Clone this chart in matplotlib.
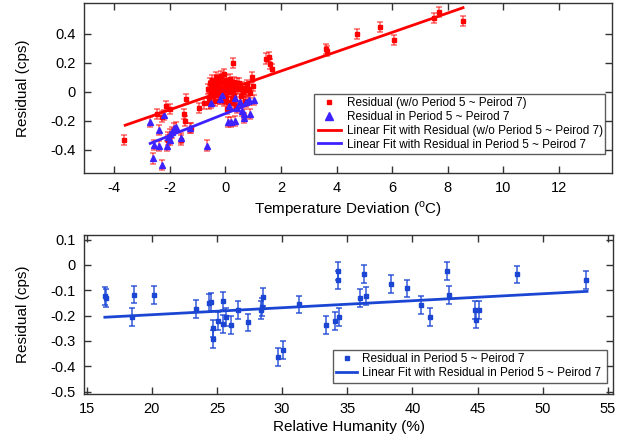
import matplotlib.pyplot as plt
import numpy as np

plt.rcParams['font.family'] = ['Liberation Sans', 'DejaVu Sans']
plt.rcParams['mathtext.fontset'] = 'custom'
plt.rcParams['mathtext.rm'] = 'Liberation Sans'

# ---------------- top panel data (temperature) ----------------
temp_red_x = [-3.63, -2.44, -2.28, -2.14, -1.99, -2.05, -1.59, -1.49, -1.45, -1.41,
              -1.24, -0.93, -0.75, 0.29, 0.97, 1.00, 0.74, 1.48, 1.57, 1.62, 1.67,
              3.62, 3.65, 4.75, 5.57, 6.05, 7.51, 7.68, 8.54,
              -0.62, -0.58, -0.55, -0.52, -0.50, -0.47, -0.45, -0.42, -0.40, -0.38,
              -0.35, -0.33, -0.30, -0.28, -0.25, -0.22, -0.20, -0.18, -0.15, -0.12,
              -0.10, -0.08, -0.05, -0.02, 0.00, 0.03, 0.05, 0.08, 0.10, 0.12,
              0.15, 0.18, 0.20, 0.23, 0.25, 0.28, 0.30, 0.33, 0.36, 0.40,
              0.45, 0.50, 0.55, 0.60, 0.65, 0.70, 0.78, 0.85, 0.90,
              -0.60, -0.44, -0.30, -0.16, 0.02, 0.14, 0.26, 0.42, -0.05, 0.08]
temp_red_y = [-0.33, -0.15, -0.17, -0.10, -0.12, -0.33, -0.33, -0.15, -0.20, -0.05,
              -0.25, -0.11, -0.08, 0.20, 0.10, 0.04, 0.01, 0.23, 0.24, 0.19, 0.16,
              0.295, 0.284, 0.40, 0.45, 0.356, 0.51, 0.55, 0.49,
              0.02, -0.04, 0.06, -0.01, 0.04, 0.08, -0.03, 0.01, 0.05, -0.06,
              0.03, 0.10, -0.02, 0.06, 0.00, 0.04, 0.09, -0.05, 0.02, 0.07,
              -0.01, 0.03, 0.12, 0.05, -0.03, 0.08, 0.01, 0.04, -0.07, 0.06,
              0.00, 0.09, 0.03, -0.04, 0.05, 0.01, 0.07, -0.02, 0.04, -0.10,
              0.02, 0.06, -0.03, 0.03, 0.00, -0.06, 0.05, 0.02, -0.01,
              -0.08, 0.00, 0.08, 0.11, -0.05, 0.02, -0.08, 0.06, -0.06, -0.12]
temp_blue_x = [-2.72, -2.59, -2.55, -2.38, -2.37, -2.27, -2.19, -2.08, -2.05, -2.00,
               -1.98, -1.92, -1.85, -1.77, -1.60, -1.27, -0.64, -0.52, -0.18, -0.13,
               0.14, 0.11, 0.21, 0.35, 0.36, 0.43, 0.54, 0.59, 0.69, 0.76, 0.87,
               0.90, 1.02, 0.69]
temp_blue_y = [-0.205, -0.459, -0.364, -0.376, -0.265, -0.505, -0.161, -0.373, -0.31, -0.33,
               -0.29, -0.28, -0.25, -0.24, -0.316, -0.249, -0.37, -0.074, -0.05, -0.023,
               -0.099, -0.21, -0.21, -0.20, -0.041, -0.11, -0.07, -0.13, -0.15, -0.07, -0.058,
               -0.15, -0.058, -0.18]
temp_err = 0.035

# linear fits (slope, intercept, x-range)
fit_red = (0.0667, 0.010, -3.6, 8.55)
fit_blue = (0.076, -0.150, -2.7, 1.05)

# ---------------- bottom panel data (humidity) ----------------
hum_x = [16.42, 16.52, 18.47, 18.65, 20.16, 23.37, 24.39, 24.57, 24.70, 24.70,
         25.09, 25.46, 25.46, 25.71, 26.05, 26.58, 27.35, 28.40, 28.45, 28.50,
         29.65, 30.08, 31.33, 33.37, 34.08, 34.26, 34.26, 34.40, 35.99, 36.27,
         36.42, 38.39, 39.56, 40.66, 41.37, 42.65, 42.80, 44.79, 44.90, 45.08,
         48.03, 53.36]
hum_y = [-0.124, -0.130, -0.205, -0.117, -0.119, -0.173, -0.151, -0.147, -0.251, -0.292,
         -0.221, -0.143, -0.232, -0.205, -0.236, -0.177, -0.227, -0.179, -0.166, -0.127,
         -0.363, -0.335, -0.156, -0.236, -0.222, -0.025, -0.059, -0.205, -0.132, -0.035,
         -0.124, -0.077, -0.093, -0.158, -0.207, -0.025, -0.120, -0.177, -0.216, -0.177,
         -0.038, -0.059]
hum_err = 0.035
fit_hum = (0.00276, -0.252, 16.4, 53.4)

red = '#ff0000'
blue_top = '#3d22ff'
blue_bot = '#1b46d4'
frame = '#333333'

fig = plt.figure(figsize=(6.34, 4.45), dpi=100)
ax1 = fig.add_axes([0.1325, 0.611, 0.8325, 0.382])
ax2 = fig.add_axes([0.1325, 0.115, 0.8345, 0.357])

# ---- top ----
ax1.errorbar(temp_red_x, temp_red_y, yerr=temp_err, fmt='none', ecolor=red,
             alpha=0.55, elinewidth=1.2, capsize=2, capthick=1.2)
ax1.errorbar(temp_blue_x, temp_blue_y, yerr=temp_err, fmt='none', ecolor=red,
             alpha=0.55, elinewidth=1.2, capsize=2, capthick=1.2)
ax1.plot(temp_red_x, temp_red_y, 's', color=red, markersize=2.3, linestyle='none',
         label='Residual (w/o Period 5 ~ Peirod 7)')
ax1.plot(temp_blue_x, temp_blue_y, '^', color=blue_top, markersize=4.8, linestyle='none',
         label='Residual in Period 5 ~ Peirod 7')
xr = np.array(fit_red[2:])
ax1.plot(xr, fit_red[0] * xr + fit_red[1], '-', color=red, linewidth=2,
         label='Linear Fit with Residual (w/o Period 5 ~ Peirod 7)')
xb = np.array(fit_blue[2:])
ax1.plot(xb, fit_blue[0] * xb + fit_blue[1], '-', color=blue_top, linewidth=2,
         label='Linear Fit with Residual in Period 5 ~ Peirod 7')

ax1.set_xlim(-5.08, 13.9)
ax1.set_ylim(-0.56, 0.612)
ax1.set_xticks([-4, -2, 0, 2, 4, 6, 8, 10, 12])
ax1.set_yticks([-0.4, -0.2, 0, 0.2, 0.4])
ax1.set_yticklabels(['-0.4', '-0.2', '0', '0.2', '0.4'])
ax1.set_xticklabels(['-4', '-2', '0', '2', '4', '6', '8', '10', '12'])
ax1.set_xlabel(r'Temperature Deviation ($^{\rm o}$C)', fontsize=11, labelpad=3)
ax1.set_ylabel('Residual (cps)', fontsize=11, labelpad=15)
leg1 = ax1.legend(loc='lower left', bbox_to_anchor=(0.436, 0.112, 0.551, 0.341),
                  mode='expand', fontsize=8.5, frameon=True, fancybox=False,
                  edgecolor=frame, borderpad=0.3, labelspacing=0.15,
                  handlelength=2.0, handletextpad=0.5, borderaxespad=0, markerscale=1.2)
leg1.get_frame().set_linewidth(1.0)

# ---- bottom ----
ax2.errorbar(hum_x, hum_y, yerr=hum_err, fmt='none', ecolor=blue_bot,
             alpha=0.75, elinewidth=1.3, capsize=2, capthick=1.3)
ax2.plot(hum_x, hum_y, 's', color=blue_bot, markersize=2.5, linestyle='none',
         label='Residual in Period 5 ~ Peirod 7')
xh = np.array(fit_hum[2:])
ax2.plot(xh, fit_hum[0] * xh + fit_hum[1], '-', color=blue_bot, linewidth=2,
         label='Linear Fit with Residual in Period 5 ~ Peirod 7')

ax2.set_xlim(14.8, 55.4)
ax2.set_ylim(-0.509, 0.118)
ax2.set_xticks([15, 20, 25, 30, 35, 40, 45, 50, 55])
ax2.set_yticks([-0.5, -0.4, -0.3, -0.2, -0.1, 0, 0.1])
ax2.set_yticklabels(['-0.5', '-0.4', '-0.3', '-0.2', '-0.1', '0', '0.1'])
ax2.set_xlabel('Relative Humanity (%)', fontsize=11, labelpad=3)
ax2.set_ylabel('Residual (cps)', fontsize=11, labelpad=15)
leg2 = ax2.legend(loc='lower left', bbox_to_anchor=(0.47, 0.07, 0.519, 0.194),
                  mode='expand', fontsize=8.5, frameon=True, fancybox=False,
                  edgecolor=frame, borderpad=0.3, labelspacing=0.15,
                  handlelength=1.8, handletextpad=0.4, borderaxespad=0)
leg2.get_frame().set_linewidth(1.0)

for ax in (ax1, ax2):
    for s in ax.spines.values():
        s.set_color(frame)
        s.set_linewidth(1.0)
    ax.tick_params(direction='in', length=5, width=1, color=frame, labelsize=10.5,
                   top=True, right=True, pad=6)

fig.savefig('out.png', dpi=100)
